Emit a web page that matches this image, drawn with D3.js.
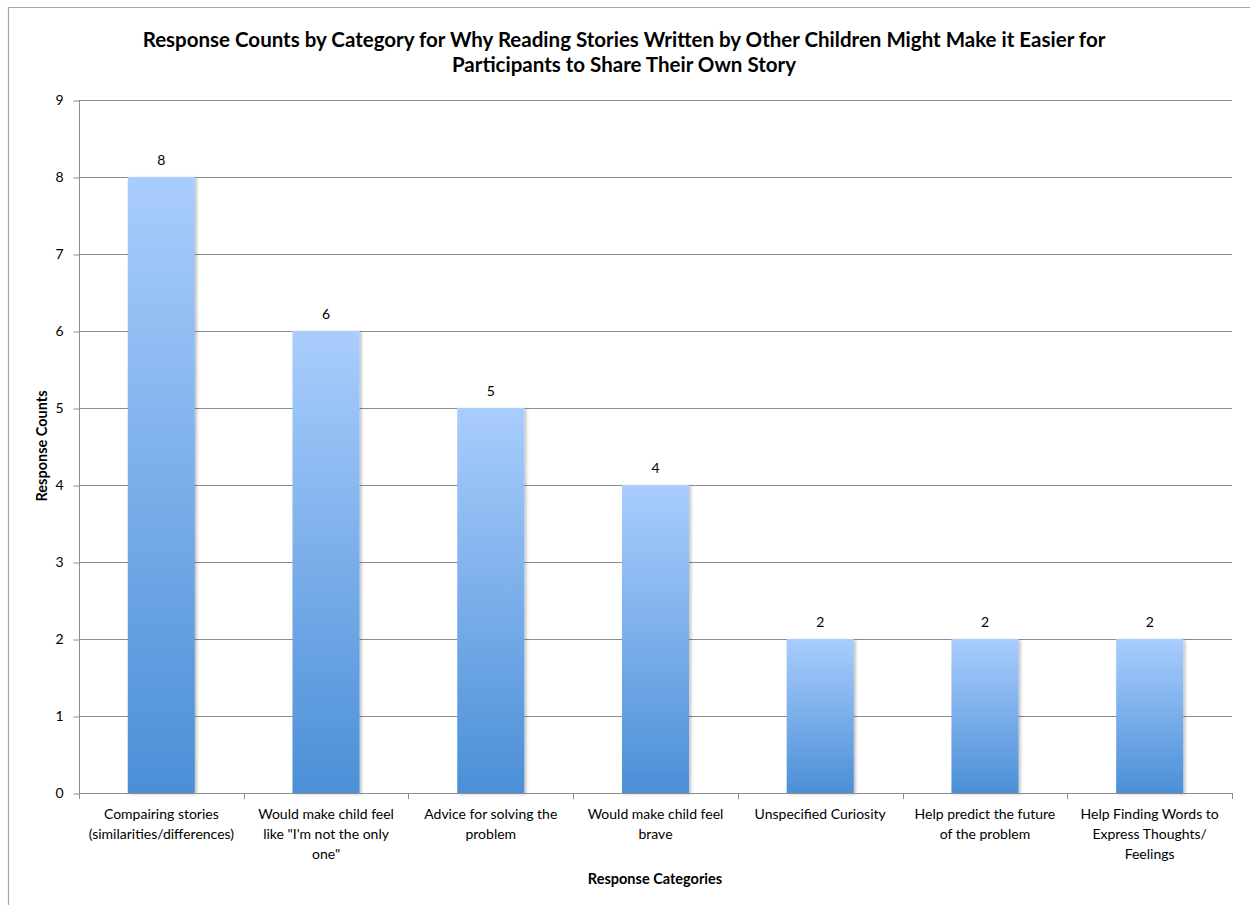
<!DOCTYPE html>
<html><head><meta charset="utf-8">
<script src="https://cdn.jsdelivr.net/npm/d3@7"></script>
<style>body{margin:0;background:#fff;} text{font-family:Lato, "Open Sans", sans-serif;}</style>
</head><body>
<svg id="c" width="1250" height="905"></svg>
<script>
const categories = [
  "Compairing stories\n(similarities/differences)",
  "Would make child feel\nlike \"I'm not the only\none\"",
  "Advice for solving the\nproblem",
  "Would make child feel\nbrave",
  "Unspecified Curiosity",
  "Help predict the future\nof the problem",
  "Help Finding Words to\nExpress Thoughts/\nFeelings"
];
const counts = [8, 6, 5, 4, 2, 2, 2];
const yTicks = [0,1,2,3,4,5,6,7,8,9];
const titleLines = ["Response Counts by Category for Why Reading Stories Written by Other Children Might Make it Easier for",
                    "Participants to Share Their Own Story"];
const yTitle = "Response Counts";
const xTitle = "Response Categories";

const svg = d3.select("#c");
const m = {left:79, right:1232, top:100, bottom:793};

// chart border
svg.append("path").attr("d","M8.5,905 V7.5 H1250").attr("fill","none").attr("stroke","#a6a6a6").attr("stroke-width",1.2);

const x = d3.scaleBand().domain(categories).range([m.left, m.right]).paddingInner(0.593).paddingOuter(0.296);
const xb = d3.scaleBand().domain(categories).range([m.left, m.right]);
const y = d3.scaleLinear().domain([0,9]).range([m.bottom, m.top]);

const defs = svg.append("defs");
const g = defs.append("linearGradient").attr("id","bg").attr("x1",0).attr("y1",0).attr("x2",0).attr("y2",1);
g.append("stop").attr("offset","0%").attr("stop-color","#a9cdfd");
g.append("stop").attr("offset","100%").attr("stop-color","#4b8fd7");
const f = defs.append("filter").attr("id","sh").attr("x","-10%").attr("y","-5%").attr("width","130%").attr("height","115%");
f.append("feDropShadow").attr("dx",2).attr("dy",1).attr("stdDeviation",1.5).attr("flood-color","#000").attr("flood-opacity",0.25);

// gridlines
svg.append("g").selectAll("line").data(yTicks.filter(d=>d>0)).join("line")
  .attr("x1",m.left).attr("x2",m.right).attr("y1",d=>Math.round(y(d))+0.5).attr("y2",d=>Math.round(y(d))+0.5)
  .attr("stroke","#8c8c8c").attr("stroke-width",1);

// bars
svg.append("g").selectAll("rect").data(counts).join("rect")
  .attr("x",(d,i)=>x(categories[i])).attr("width",x.bandwidth())
  .attr("y",d=>y(d)).attr("height",d=>y(0)-y(d))
  .attr("fill","url(#bg)").attr("filter","url(#sh)");

// value labels
svg.append("g").selectAll("text").data(counts).join("text")
  .attr("x",(d,i)=>x(categories[i])+x.bandwidth()/2).attr("y",d=>y(d)-12)
  .attr("text-anchor","middle").attr("font-size",14).attr("fill","#000").text(d=>d);

// y axis
const ya = d3.axisLeft(y).tickValues(yTicks).tickSize(6).tickPadding(10).tickFormat(d3.format("d"));
const yg = svg.append("g").attr("transform",`translate(${m.left+0.5},0.5)`).call(ya);
yg.select(".domain").attr("stroke","#8c8c8c").attr("d",`M0,${m.top}V${m.bottom}`);
yg.selectAll(".tick line").attr("stroke","#8c8c8c");
yg.selectAll(".tick text").attr("font-size",14).attr("fill","#000").attr("font-family","Lato, sans-serif");

// x axis baseline and ticks
const xg = svg.append("g");
xg.append("line").attr("x1",m.left).attr("x2",m.right).attr("y1",m.bottom+0.5).attr("y2",m.bottom+0.5).attr("stroke","#8c8c8c");
const bounds = categories.map(c=>xb(c)).concat([m.right]);
xg.selectAll("line.t").data(bounds).join("line").attr("class","t")
  .attr("x1",d=>Math.round(d)+0.5).attr("x2",d=>Math.round(d)+0.5).attr("y1",m.bottom).attr("y2",m.bottom+6).attr("stroke","#8c8c8c");

// category labels
categories.forEach((c,i)=>{
  const t = xg.append("text").attr("x",xb(c)+xb.bandwidth()/2).attr("y",819)
    .attr("text-anchor","middle").attr("font-size",14).attr("fill","#000");
  c.split("\n").forEach((ln,j)=>t.append("tspan").attr("x",xb(c)+xb.bandwidth()/2).attr("dy",j?20:0).text(ln));
});

// titles
const tt = svg.append("text").attr("x",624).attr("y",47).attr("text-anchor","middle").attr("font-size",20.5).attr("font-weight","bold").attr("fill","#000");
titleLines.forEach((ln,j)=>tt.append("tspan").attr("x",624).attr("dy",j?25:0).text(ln));
svg.append("text").attr("transform","translate(47,446) rotate(-90)").attr("text-anchor","middle").attr("font-size",14.5).attr("font-weight","bold").text(yTitle);
svg.append("text").attr("x",655).attr("y",884).attr("text-anchor","middle").attr("font-size",14.5).attr("font-weight","bold").text(xTitle);
</script>
</body></html>
